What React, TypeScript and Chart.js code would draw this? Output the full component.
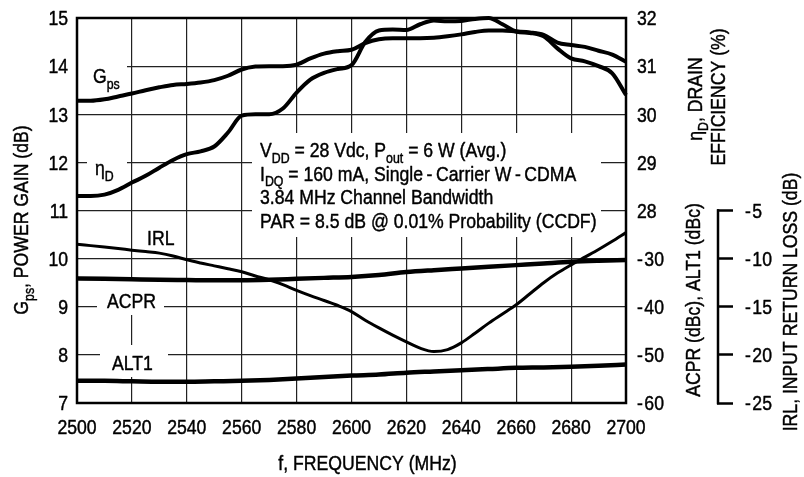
import React, { useEffect, useRef } from "react";
import { Chart, registerables } from "chart.js";
Chart.register(...registerables);

const FONT = "'Liberation Sans', Arial, sans-serif";
const FS = 20.5; // font size
const SX = 0.86; // horizontal condensing

const freq5 = [2500, 2505, 2510, 2515, 2520, 2525, 2530, 2535, 2540, 2545, 2550, 2555, 2560, 2565, 2570, 2575, 2580, 2585, 2590, 2595, 2600, 2605, 2610, 2615, 2620, 2625, 2630, 2635, 2640, 2645, 2650, 2655, 2660, 2665, 2670, 2675, 2680, 2685, 2690, 2695, 2700];
const gpsValues = [13.28, 13.28, 13.31, 13.37, 13.43, 13.5, 13.56, 13.61, 13.63, 13.66, 13.71, 13.8, 13.93, 13.99, 14.0, 14.0, 14.03, 14.16, 14.26, 14.31, 14.34, 14.48, 14.56, 14.58, 14.58, 14.58, 14.59, 14.62, 14.66, 14.71, 14.74, 14.74, 14.72, 14.7, 14.65, 14.49, 14.44, 14.4, 14.32, 14.24, 14.09];
const etaValues = [28.3, 28.3, 28.33, 28.43, 28.58, 28.72, 28.89, 29.05, 29.17, 29.23, 29.33, 29.62, 29.97, 30.0, 30.0, 30.12, 30.45, 30.72, 30.86, 30.94, 31.02, 31.5, 31.74, 31.76, 31.75, 31.87, 31.95, 31.93, 31.94, 31.98, 32.0, 31.87, 31.72, 31.69, 31.62, 31.37, 31.16, 31.1, 31.0, 30.85, 30.4];
const irlValues = [-8.5, -8.65, -8.8, -8.95, -9.12, -9.27, -9.43, -9.72, -10.12, -10.45, -10.75, -11.05, -11.37, -11.8, -12.2, -12.7, -13.3, -13.85, -14.35, -14.87, -15.5, -16.4, -17.2, -17.95, -18.65, -19.3, -19.65, -19.45, -18.75, -17.75, -16.7, -15.75, -14.8, -13.65, -12.5, -11.5, -10.65, -9.85, -9.05, -8.2, -7.3];

const freq10 = [2500, 2510, 2520, 2530, 2540, 2550, 2560, 2570, 2580, 2590, 2600, 2610, 2620, 2630, 2640, 2650, 2660, 2670, 2680, 2690, 2700];
const acprValues = [-34.1, -34.2, -34.3, -34.4, -34.45, -34.5, -34.5, -34.4, -34.2, -34.0, -33.8, -33.4, -32.8, -32.4, -32.05, -31.7, -31.35, -31.0, -30.66, -30.45, -30.3];
const alt1Values = [-55.4, -55.4, -55.5, -55.6, -55.6, -55.5, -55.4, -55.2, -54.9, -54.6, -54.3, -54.1, -53.7, -53.45, -53.2, -52.95, -52.7, -52.6, -52.45, -52.25, -52.0];

const xTicks = [2500, 2520, 2540, 2560, 2580, 2600, 2620, 2640, 2660, 2680, 2700];
const gainTicks = [7, 8, 9, 10, 11, 12, 13, 14, 15];
const etaTicks = [28, 29, 30, 31, 32];
const acprTicks = [-30, -40, -50, -60];
const irlTicks = [-25, -20, -15, -10, -5];

type Part = { t: string; sub?: boolean };

const fmt = (v: number) => (v < 0 ? "-\u200A" + String(-v) : String(v));

function drawRich(ctx: CanvasRenderingContext2D, parts: Part[], x: number, y: number, align: "left" | "center" | "right" = "left", size = FS) {
  const subSize = size * 0.7;
  let w = 0;
  for (const p of parts) {
    ctx.font = `${p.sub ? subSize : size}px ${FONT}`;
    w += ctx.measureText(p.t).width;
  }
  ctx.save();
  ctx.translate(x, y);
  ctx.scale(SX, 1);
  let cx = align === "center" ? -w / 2 : align === "right" ? -w : 0;
  ctx.textAlign = "left";
  ctx.textBaseline = "alphabetic";
  ctx.lineWidth = 0.45;
  ctx.strokeStyle = "#000";
  ctx.lineJoin = "round";
  for (const p of parts) {
    ctx.font = `${p.sub ? subSize : size}px ${FONT}`;
    const yy = p.sub ? size * 0.27 : 0;
    ctx.fillText(p.t, cx, yy);
    ctx.strokeText(p.t, cx, yy);
    cx += ctx.measureText(p.t).width;
  }
  ctx.restore();
}

function drawRotated(ctx: CanvasRenderingContext2D, parts: Part[], bx: number, cy: number) {
  ctx.save();
  ctx.translate(bx, cy);
  ctx.rotate(-Math.PI / 2);
  drawRich(ctx, parts, 0, 0, "center");
  ctx.restore();
}

const CAP = FS * 0.716;
const SP = "\u2009";

const decor = {
  id: "decor",
  beforeDatasetsDraw(chart: any) {
    const ctx = chart.ctx as CanvasRenderingContext2D;
    ctx.save();
    ctx.fillStyle = "#ffffff";
    ctx.fillRect(78, 59, 49, 14); // G_ps label gap
    ctx.fillRect(87, 156, 40, 14); // eta label gap
    ctx.fillRect(252, 133, 349, 104); // annotation box
    ctx.fillRect(97, 281, 67, 34); // ACPR label gap
    ctx.fillRect(100, 345, 68, 32); // ALT1 label gap
    ctx.restore();
  },
  afterDatasetsDraw(chart: any) {
    const ctx = chart.ctx as CanvasRenderingContext2D;
    const a = chart.chartArea;
    const { x, y, y2, y3, y4 } = chart.scales;
    ctx.save();
    ctx.strokeStyle = "#000";
    ctx.lineWidth = 2.5;
    ctx.strokeRect(a.left, a.top, a.right - a.left, a.bottom - a.top);
    // IRL axis line
    ctx.beginPath();
    ctx.moveTo(y4.left + 1, y4.getPixelForValue(-5) - 1.25);
    ctx.lineTo(y4.left + 1, y4.getPixelForValue(-25) + 1.25);
    ctx.stroke();
    ctx.fillStyle = "#000";
    // tick labels
    for (const t of x.ticks) drawRich(ctx, [{ t: fmt(t.value) }], x.getPixelForValue(t.value), a.bottom + 31, "center");
    for (const t of y.ticks) drawRich(ctx, [{ t: fmt(t.value) }], a.left - 9, y.getPixelForValue(t.value) + CAP / 2, "right");
    for (const t of y2.ticks) drawRich(ctx, [{ t: fmt(t.value) }], a.right + 11, y2.getPixelForValue(t.value) + CAP / 2, "left");
    for (const v of acprTicks) drawRich(ctx, [{ t: fmt(v) }], a.right + 11, y3.getPixelForValue(v) + CAP / 2, "left");
    for (const t of y4.ticks) drawRich(ctx, [{ t: fmt(t.value) }], y4.left + 28, y4.getPixelForValue(t.value) + CAP / 2, "left");
    // in-plot labels
    drawRich(ctx, [{ t: "G" }, { t: "ps", sub: true }], 93, 83);
    drawRich(ctx, [{ t: "η" }, { t: "D", sub: true }], 95, 175);
    drawRich(ctx, [{ t: "IRL" }], 147, 245);
    drawRich(ctx, [{ t: "ACPR" }], 107, 308);
    drawRich(ctx, [{ t: "ALT1" }], 112, 370);
    // annotation
    drawRich(ctx, [{ t: "V" }, { t: "DD", sub: true }, { t: " = 28 Vdc, P" }, { t: "out", sub: true }, { t: " = 6 W (Avg.)" }], 260, 157);
    drawRich(ctx, [{ t: "I" }, { t: "DQ", sub: true }, { t: ` = 160 mA, Single${SP}-${SP}Carrier W${SP}-${SP}CDMA` }], 260, 180.5);
    drawRich(ctx, [{ t: "3.84 MHz Channel Bandwidth" }], 260, 204);
    drawRich(ctx, [{ t: "PAR = 8.5 dB @ 0.01% Probability (CCDF)" }], 260, 228);
    // axis titles
    drawRich(ctx, [{ t: "f, FREQUENCY (MHz)" }], 367.5, 470, "center");
    drawRotated(ctx, [{ t: "G" }, { t: "ps", sub: true }, { t: ", POWER GAIN (dB)" }], 28, 220);
    drawRotated(ctx, [{ t: "η" }, { t: "D", sub: true }, { t: ", DRAIN" }], 702, 99);
    drawRotated(ctx, [{ t: "EFFICIENCY (%)" }], 725, 97);
    drawRotated(ctx, [{ t: "ACPR (dBc), ALT1 (dBc)" }], 700, 300);
    drawRotated(ctx, [{ t: "IRL, INPUT RETURN LOSS (dB)" }], 797, 302);
    ctx.restore();
  },
};

const gridOpts = { color: "#222", lineWidth: 1.2, drawTicks: false };

export default function App() {
  const ref = useRef<HTMLCanvasElement | null>(null);
  useEffect(() => {
    document.body.style.margin = "0";
    const canvas = ref.current!;
    const xy = (xs: number[], ys: number[]) => xs.map((xv, i) => ({ x: xv, y: ys[i] }));
    const common = { pointRadius: 0, borderColor: "#000", fill: false, cubicInterpolationMode: "monotone" as const, clip: 5 };
    const chart = new Chart(canvas, {
      type: "line",
      data: {
        datasets: [
          { ...common, label: "Gps", data: xy(freq5, gpsValues), yAxisID: "y", borderWidth: 4 },
          { ...common, label: "ηD", data: xy(freq5, etaValues), yAxisID: "y2", borderWidth: 4 },
          { ...common, label: "IRL", data: xy(freq5, irlValues), yAxisID: "y4", borderWidth: 3 },
          { ...common, label: "ACPR", data: xy(freq10, acprValues), yAxisID: "y3", borderWidth: 4.5 },
          { ...common, label: "ALT1", data: xy(freq10, alt1Values), yAxisID: "y3", borderWidth: 4.5 },
        ],
      },
      options: {
        animation: false,
        responsive: false,
        layout: { padding: { top: 18, left: 0, right: 0, bottom: 0 } },
        plugins: { legend: { display: false }, tooltip: { enabled: false } },
        scales: {
          x: {
            type: "linear", min: 2500, max: 2700,
            afterBuildTicks: (s: any) => { s.ticks = xTicks.map((v) => ({ value: v })); },
            afterFit: (s: any) => { s.height = 74; },
            grid: gridOpts, border: { display: false },
            ticks: { display: false },
          },
          y: {
            position: "left", min: 7, max: 15,
            afterBuildTicks: (s: any) => { s.ticks = gainTicks.map((v) => ({ value: v })); },
            afterFit: (s: any) => { s.width = 77; },
            grid: gridOpts, border: { display: false },
            ticks: { display: false },
          },
          y2: {
            position: "right", min: 24, max: 32, weight: 0,
            afterBuildTicks: (s: any) => { s.ticks = etaTicks.map((v) => ({ value: v })); },
            afterFit: (s: any) => { s.width = 91; },
            grid: { drawOnChartArea: false, drawTicks: false }, border: { display: false },
            ticks: { display: false },
          },
          y3: { display: false, min: -60, max: 20 },
          y4: {
            position: "right", min: -25, max: 15, weight: 1,
            afterBuildTicks: (s: any) => { s.ticks = irlTicks.map((v) => ({ value: v })); },
            afterFit: (s: any) => { s.width = 87; },
            grid: { drawOnChartArea: false, drawTicks: true, tickLength: 16, tickWidth: 2.5, color: "#000" },
            border: { display: false },
            ticks: { display: false },
          },
        },
      } as any,
      plugins: [decor],
    });
    return () => chart.destroy();
  }, []);
  return (
    <div style={{ width: 804, height: 477 }}>
      <canvas ref={ref} width={804} height={477} style={{ display: "block", width: 804, height: 477 }} />
    </div>
  );
}
